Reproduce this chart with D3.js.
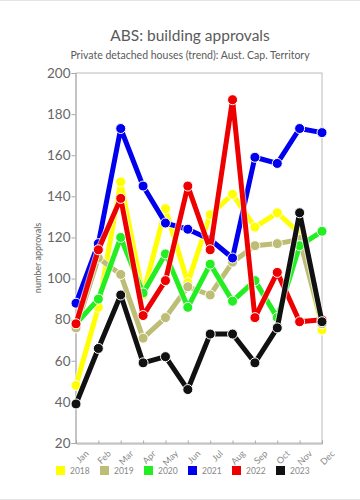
<!DOCTYPE html>
<html><head><meta charset="utf-8">
<script src="https://cdn.jsdelivr.net/npm/d3@7"></script>
<style>body{margin:0;background:#fff;}svg{display:block;font-family:Lato,"Open Sans",sans-serif;}</style>
</head><body><svg id="c" width="360" height="500"></svg>
<script>
const months = ["Jan","Feb","Mar","Apr","May","Jun","Jul","Aug","Sep","Oct","Nov","Dec"];
const years = ["2018","2019","2020","2021","2022","2023"];
const colors = ["#ffff00","#bdbd75","#22ee22","#0000ee","#ee0000","#111111"];
const v2018 = [48,86,147,92,134,98,131,141,125,132,122,75];
const v2019 = [76,110,102,71,81,96,92,108,116,117,119,78];
const v2020 = [78,90,120,93,112,86,107,89,99,81,116,123];
const v2021 = [88,117,173,145,127,124,119,110,159,156,173,171];
const v2022 = [78,114,139,82,99,145,114,187,81,103,79,80];
const v2023 = [39,66,92,59,62,46,73,73,59,76,132,79];
const yTicks = [20,40,60,80,100,120,140,160,180,200];
const series = [v2018,v2019,v2020,v2021,v2022,v2023];

const svg = d3.select("#c");
const L=76,R=322,T=73,B=443;
const x = d3.scalePoint().domain(months).range([L,R]);
const y = d3.scaleLinear().domain([20,200]).range([B,T]);

svg.append("line").attr("x1",0).attr("x2",360).attr("y1",0.5).attr("y2",0.5).attr("stroke","#e4e4e4");
svg.append("line").attr("x1",0).attr("x2",360).attr("y1",499.5).attr("y2",499.5).attr("stroke","#e4e4e4");

svg.append("text").attr("x",190).attr("y",41).attr("text-anchor","middle").attr("font-size",15.5).attr("fill","#5a5a5a").text("ABS: building approvals");
svg.append("text").attr("x",190).attr("y",59).attr("text-anchor","middle").attr("font-size",10.5).attr("fill","#5a5a5a").text("Private detached houses (trend): Aust. Cap. Territory");

// frame
svg.append("rect").attr("x",L).attr("y",T).attr("width",R-L).attr("height",B-T).attr("fill","none").attr("stroke","#bbb").attr("stroke-width",1);

const ya = svg.append("g").attr("transform",`translate(${L-0.5},0)`)
  .call(d3.axisLeft(y).tickValues(yTicks).tickSize(4).tickPadding(1));
ya.select(".domain").attr("stroke","#aaa");
ya.selectAll(".tick line").attr("stroke","#aaa");
ya.selectAll("text").attr("fill","#666").attr("font-size",13.5).attr("font-family","Lato,sans-serif");

const xa = svg.append("g").attr("transform",`translate(0,${B+0.5})`)
  .call(d3.axisBottom(x).tickSize(-3).tickPadding(6));
xa.select(".domain").attr("stroke","#aaa");
xa.selectAll(".tick line").attr("stroke","#aaa");
xa.selectAll("text").attr("fill","#888").attr("font-size",9).attr("font-family","Lato,sans-serif")
  .attr("text-anchor","end").attr("transform","translate(4,2) rotate(-45)");

svg.append("text").attr("transform",`translate(41,258) rotate(-90)`).attr("text-anchor","middle")
  .attr("font-size",9).attr("fill","#666").text("number approvals");

const line = d3.line().x((d,i)=>x(months[i])).y(d=>y(d));
series.forEach((s,k)=>{
  const g = svg.append("g");
  g.append("path").attr("d",line(s)).attr("fill","none").attr("stroke","#fff").attr("stroke-opacity",0.6).attr("stroke-width",7).attr("stroke-linejoin","round");
  g.append("path").attr("d",line(s)).attr("fill","none").attr("stroke",colors[k]).attr("stroke-width",5).attr("stroke-linejoin","round");
  g.selectAll("circle").data(s).join("circle").attr("cx",(d,i)=>x(months[i])).attr("cy",d=>y(d))
    .attr("r",5).attr("fill",colors[k]).attr("stroke","#fff").attr("stroke-width",1);
});

const lg = svg.append("g");
years.forEach((yr,k)=>{
  const lx = 56 + k*44;
  lg.append("rect").attr("x",lx).attr("y",466).attr("width",9).attr("height",9).attr("fill",colors[k]);
  lg.append("text").attr("x",lx+14).attr("y",474).attr("font-size",8.5).attr("fill","#888").text(yr);
});
</script></body></html>
